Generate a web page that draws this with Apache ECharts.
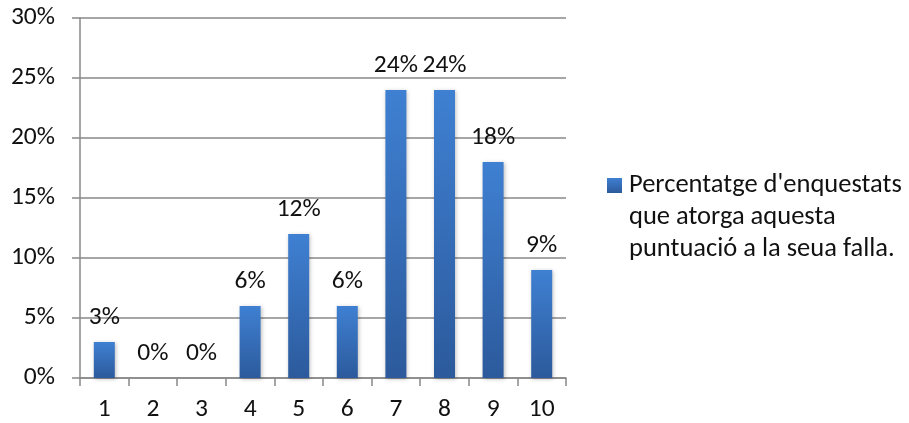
<!DOCTYPE html>
<html><head><meta charset="utf-8">
<script src="https://cdn.jsdelivr.net/npm/echarts@6/dist/echarts.min.js"></script>
<style>html,body{margin:0;padding:0;background:#fff}#c{width:909px;height:423px}</style>
</head><body><div id="c"></div>
<script>
const categories = ['1','2','3','4','5','6','7','8','9','10'];
const values = [3,0,0,6,12,6,24,24,18,9];
const yTicks = [0,5,10,15,20,25,30];
const seriesName = "Percentatge d'enquestats que atorga aquesta puntuació a la seua falla.";
const legendLines = ["Percentatge d'enquestats","que atorga aquesta","puntuació a la seua falla."];
const font = 'Carlito, Calibri, Lato, "Open Sans", sans-serif';
const chart = echarts.init(document.getElementById('c'));
chart.setOption({
  animation:false,
  textStyle:{fontFamily:font},
  grid:{left:80,right:343,top:18,bottom:45,containLabel:false},
  legend:{
    orient:'vertical', left:607, top:178,
    itemWidth:15, itemHeight:15, itemGap:0, padding:0,
    formatter:()=>'',
    textStyle:{fontSize:1},
    data:[{name:seriesName,icon:'rect'}]
  },
  graphic:[{type:'text',left:629,top:169,
    style:{text:legendLines.join('\n'),fontSize:26.5,lineHeight:32,fill:'#111',fontFamily:font}}],
  xAxis:{type:'category',data:categories,
    axisLine:{lineStyle:{color:'#888',width:1.5}},
    axisTick:{show:true,length:8,lineStyle:{color:'#888',width:1.5}},
    axisLabel:{fontSize:25.5,color:'#111',margin:19,fontFamily:font}},
  yAxis:{type:'value',min:yTicks[0],max:yTicks[yTicks.length-1],interval:5,
    axisLine:{show:true,lineStyle:{color:'#888',width:1.5}},
    axisTick:{show:true,length:8,lineStyle:{color:'#888',width:1.5}},
    splitLine:{lineStyle:{color:'#888',width:1.5}},
    axisLabel:{fontSize:25.5,color:'#111',margin:25,formatter:'{value}%',fontFamily:font}},
  series:[{name:seriesName,type:'bar',data:values,barWidth:21,
    itemStyle:{color:new echarts.graphic.LinearGradient(0,0,0,1,[{offset:0,color:'#3F80D2'},{offset:1,color:'#2C5A9C'}]),
      shadowBlur:4,shadowColor:'rgba(0,0,0,0.25)',shadowOffsetX:1,shadowOffsetY:1},
    label:{show:true,position:'top',distance:11,fontSize:25.5,color:'#111',formatter:'{c}%',fontFamily:font}}]
});
</script></body></html>
